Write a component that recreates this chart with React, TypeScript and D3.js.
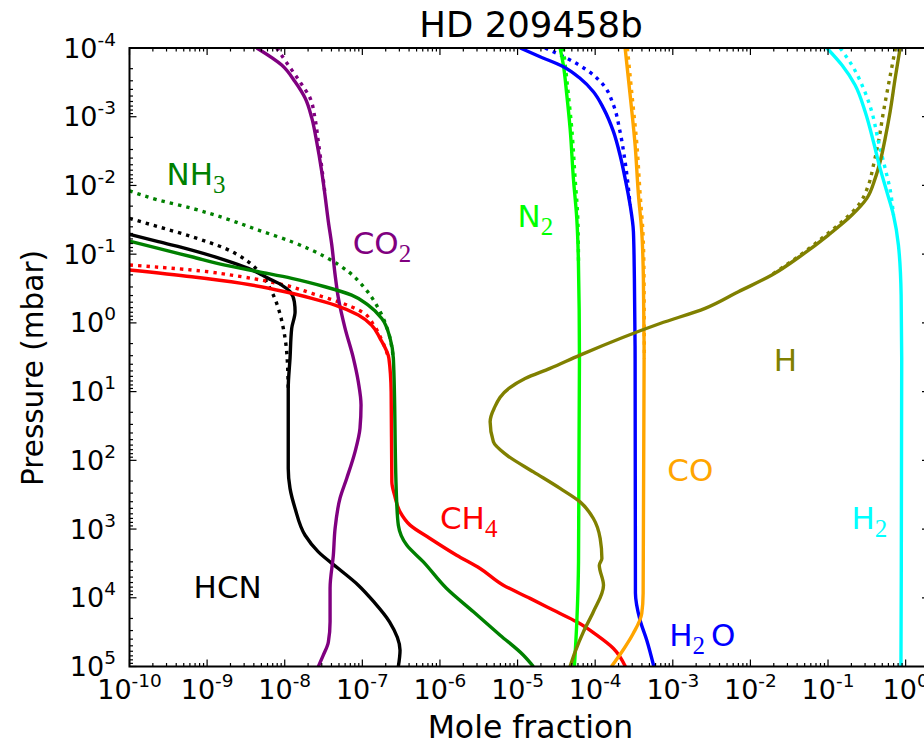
import React from "react";
import * as d3 from "d3";

type Pt = [number, number]; // [pressure (mbar), mole fraction]

// ---- Data: [pressure (mbar), mole fraction] ----
const co2Solid: Pt[] = [
  [1e-4, 4.36e-9], [1.77e-4, 9.14e-9], [3.1e-4, 1.36e-8], [5.35e-4, 1.83e-8], [1.04e-3, 2.23e-8],
  [2.31e-3, 2.58e-8], [6.32e-3, 3.0e-8], [1.38e-2, 3.3e-8], [3.37e-2, 3.65e-8], [7.36e-2, 4.04e-8],
  [0.201, 4.46e-8], [0.435, 4.91e-8], [1.19, 5.98e-8], [3.25, 7.66e-8], [7.19, 8.87e-8],
  [15.7, 9.62e-8], [34, 9.33e-8], [75.2, 8.05e-8], [182, 6.3e-8], [355, 5.16e-8], [970, 4.46e-8],
  [2400, 4.23e-8], [7240, 3.84e-8], [22400, 3.84e-8], [43900, 3.65e-8], [68500, 3.14e-8], [1e5, 2.71e-8],
];
const co2Dotted: Pt[] = [
  [1e-4, 7.89e-9], [1.77e-4, 1.11e-8], [3.1e-4, 1.57e-8], [5.35e-4, 2.12e-8], [1.04e-3, 2.45e-8],
  [2.31e-3, 2.71e-8], [6.32e-3, 3.05e-8], [1.38e-2, 3.32e-8],
];

const hcnSolid: Pt[] = [
  [5.15e-2, 1e-10], [6.59e-2, 2.35e-10], [8.71e-2, 6.34e-10], [0.122, 1.7e-9], [0.161, 3.4e-9],
  [0.225, 6.15e-9], [0.282, 9.14e-9], [0.352, 1.17e-8], [0.493, 1.33e-8], [0.689, 1.36e-8],
  [1.2, 1.23e-8], [3.29, 1.17e-8], [9.0, 1.11e-8], [131, 1.11e-8], [256, 1.17e-8], [501, 1.36e-8],
  [1230, 1.83e-8], [2150, 2.71e-8], [3750, 4.91e-8], [6560, 8.87e-8], [11500, 1.41e-7],
  [22400, 2.24e-7], [57900, 3.06e-7], [1e5, 2.91e-7],
];
const hcnDotted: Pt[] = [
  [3.01e-2, 1e-10], [3.99e-2, 2.35e-10], [5.57e-2, 6.34e-10], [8.24e-2, 1.7e-9], [0.129, 3.4e-9],
  [0.201, 5.06e-9], [0.352, 6.81e-9], [0.615, 8.28e-9], [1.2, 9.59e-9], [2.63, 1.06e-8], [9.0, 1.11e-8],
];

const ch4Solid: Pt[] = [
  [0.17, 1e-10], [0.213, 6.34e-10], [0.266, 2.79e-9], [0.352, 1.01e-8], [0.44, 2.23e-8],
  [0.551, 4.45e-8], [0.769, 8.87e-8], [1.08, 1.32e-7], [1.68, 1.69e-7], [3.29, 2.2e-7],
  [10, 2.35e-7], [206, 2.4e-7], [321, 2.6e-7], [562, 3.06e-7], [877, 4.12e-7], [1370, 7.45e-7],
  [2400, 1.64e-6], [3750, 3.29e-6], [6560, 6.56e-6], [10200, 1.45e-5], [16000, 3.2e-5],
  [22400, 5.79e-5], [35000, 1.05e-4], [54700, 1.72e-4], [1e5, 2.45e-4],
];
const ch4Dotted: Pt[] = [
  [0.144, 1e-10], [0.17, 6.34e-10], [0.213, 2.79e-9], [0.282, 1.01e-8], [0.372, 2.23e-8],
  [0.493, 4.91e-8], [0.689, 9.82e-8], [1.08, 1.41e-7], [1.68, 1.74e-7], [3.29, 2.2e-7],
];

const nh3Solid: Pt[] = [
  [6.44e-2, 1e-10], [8.24e-2, 2.35e-10], [0.109, 6.34e-10], [0.144, 1.7e-9], [0.18, 4.57e-9],
  [0.225, 1.23e-8], [0.298, 3.3e-8], [0.394, 7.29e-8], [0.551, 1.19e-7], [0.861, 1.78e-7],
  [1.68, 2.28e-7], [3.29, 2.51e-7], [402, 2.77e-7], [877, 2.91e-7], [1710, 3.73e-7], [3000, 6.11e-7],
  [7330, 1.22e-6], [16000, 2.7e-6], [35000, 5.96e-6], [68500, 1.19e-5], [1e5, 1.6e-5],
];
const nh3Dotted: Pt[] = [
  [1.2e-2, 1e-10], [1.63e-2, 2.35e-10], [2.15e-2, 6.34e-10], [3.01e-2, 1.7e-9], [4.46e-2, 4.57e-9],
  [6.59e-2, 1.23e-8], [0.109, 3.3e-8], [0.18, 6.61e-8], [0.315, 1.08e-7], [0.615, 1.61e-7],
  [1.35, 2.16e-7], [3.29, 2.51e-7],
];

const n2Solid: Pt[] = [
  [1e-4, 3.53e-5], [1.77e-4, 3.89e-5], [4.83e-4, 4.31e-5], [1.48e-3, 4.75e-5], [7.89e-3, 5.24e-5],
  [3.01e-2, 5.79e-5], [0.129, 6.08e-5], [3.29, 6.27e-5], [3000, 6.1e-5], [22400, 5.8e-5], [1e5, 5.4e-5],
];
const n2Dotted: Pt[] = [
  [1e-4, 3.89e-5], [4.83e-4, 4.52e-5], [1.48e-3, 4.99e-5], [7.89e-3, 5.51e-5], [3.01e-2, 5.97e-5],
  [0.129, 6.1e-5],
];

const h2oSolid: Pt[] = [
  [1e-4, 1.08e-5], [1.34e-4, 1.95e-5], [1.87e-4, 3.89e-5], [2.76e-4, 6.38e-5], [4.33e-4, 9.48e-5],
  [7.55e-4, 1.28e-4], [1.65e-3, 1.72e-4], [3.61e-3, 2.09e-4], [7.89e-3, 2.43e-4], [1.93e-2, 2.82e-4],
  [4.72e-2, 3.11e-4], [0.225, 3.2e-4], [3.29, 3.27e-4], [8500, 3.3e-4], [21200, 3.79e-4],
  [41400, 4.62e-4], [1e5, 5.7e-4],
];
const h2oDotted: Pt[] = [
  [1e-4, 2.26e-5], [1.41e-4, 4.31e-5], [2.09e-4, 7.8e-5], [3.46e-4, 1.28e-4], [6.76e-4, 1.72e-4],
  [1.65e-3, 2.09e-4], [4.52e-3, 2.43e-4], [1.93e-2, 2.82e-4],
];

const coSolid: Pt[] = [
  [1e-4, 2.43e-4], [4.83e-4, 2.82e-4], [2.58e-3, 3.27e-4], [1.38e-2, 3.61e-4], [4.72e-2, 3.98e-4],
  [0.225, 4.18e-4], [3.29, 4.27e-4], [8500, 4.15e-4], [17000, 3.98e-4], [33100, 3.09e-4],
  [57500, 2.29e-4], [1e5, 1.62e-4],
];
const coDotted: Pt[] = [
  [1e-4, 2.6e-4], [4.83e-4, 2.98e-4], [2.58e-3, 3.45e-4], [1.38e-2, 3.8e-4], [4.72e-2, 4.12e-4],
  [0.225, 4.26e-4], [3.29, 4.3e-4],
];

const hSolid: Pt[] = [
  [1e-4, 0.849], [2.76e-4, 0.733], [8.45e-4, 0.631], [2.06e-3, 0.545], [4.52e-3, 0.469],
  [7.89e-3, 0.405], [1.54e-2, 0.316], [2.7e-2, 0.203], [5.27e-2, 0.101], [0.103, 4.6e-2],
  [0.201, 1.89e-2], [0.352, 7.0e-3], [0.615, 2.61e-3], [1.02, 6.85e-4], [2.94, 6.38e-5],
  [4.59, 2.62e-5], [6.43, 1.25e-5], [8.9, 7.8e-6], [17.4, 5.0e-6], [27.5, 4.43e-6], [53.8, 4.88e-6],
  [83.9, 7.26e-6], [147, 1.6e-5], [256, 3.53e-5], [402, 6.38e-5], [702, 9.48e-5], [1370, 1.16e-4],
  [2680, 1.22e-4], [3360, 1.13e-4], [6560, 1.28e-4], [16000, 9.48e-5], [31300, 7.05e-5],
  [61200, 5.51e-5], [1e5, 4.75e-5],
];
const hDotted: Pt[] = [
  [1e-4, 0.74], [3.46e-4, 0.6], [8.45e-4, 0.518], [2.31e-3, 0.447], [5.05e-3, 0.385],
  [9.86e-3, 0.332], [1.93e-2, 0.247], [3.37e-2, 0.151], [5.89e-2, 8.3e-2], [0.103, 4.4e-2],
  [0.201, 1.85e-2],
];

const h2Solid: Pt[] = [
  [1e-4, 0.0966], [1.77e-4, 0.151], [3.46e-4, 0.223], [8.45e-4, 0.301], [2.31e-3, 0.385],
  [5.65e-3, 0.469], [1.24e-2, 0.573], [2.7e-2, 0.697], [7.36e-2, 0.807], [0.394, 0.875],
  [3.29, 0.89], [1e5, 0.87],
];
const h2Dotted: Pt[] = [
  [1e-4, 0.143], [1.77e-4, 0.203], [3.87e-4, 0.286], [8.45e-4, 0.366], [2.31e-3, 0.447],
  [5.65e-3, 0.545], [1.15e-2, 0.631], [2.7e-2, 0.697],
];

// ---- Axis ticks ----
const xTickExps = [-10, -9, -8, -7, -6, -5, -4, -3, -2, -1, 0];
const yTickExps = [-4, -3, -2, -1, 0, 1, 2, 3, 4, 5];

// ---- Series configuration ----
const series = [
  { name: "HCN", color: "#000000", solid: hcnSolid, dotted: hcnDotted },
  { name: "CO2", color: "#800080", solid: co2Solid, dotted: co2Dotted },
  { name: "CH4", color: "#ff0000", solid: ch4Solid, dotted: ch4Dotted },
  { name: "NH3", color: "#008000", solid: nh3Solid, dotted: nh3Dotted },
  { name: "N2", color: "#00ff00", solid: n2Solid, dotted: n2Dotted },
  { name: "H2O", color: "#0000ff", solid: h2oSolid, dotted: h2oDotted },
  { name: "CO", color: "#ffa500", solid: coSolid, dotted: coDotted },
  { name: "H", color: "#808000", solid: hSolid, dotted: hDotted },
  { name: "H2", color: "#00ffff", solid: h2Solid, dotted: h2Dotted },
];

// species annotations: [mole fraction, pressure] anchor (left, baseline)
const labels = [
  { text: "NH", sub: "3", tail: "", at: [3e-10, 1e-2], color: "#008000" },
  { text: "CO", sub: "2", tail: "", at: [7.5e-8, 1e-1], color: "#800080" },
  { text: "N", sub: "2", tail: "", at: [1e-5, 4e-2], color: "#00ff00" },
  { text: "H", sub: "", tail: "", at: [2e-2, 5], color: "#808000" },
  { text: "CO", sub: "", tail: "", at: [8.5e-4, 200], color: "#ffa500" },
  { text: "H", sub: "2", tail: "", at: [0.2, 1e3], color: "#00ffff" },
  { text: "CH", sub: "4", tail: "", at: [1e-6, 1e3], color: "#ff0000" },
  { text: "HCN", sub: "", tail: "", at: [6.7e-10, 1e4], color: "#000000" },
  { text: "H", sub: "2", tail: "O", at: [9e-4, 5e4], color: "#0000ff" },
];

export default function App() {
  const W = 924, H = 744;
  const L = 129.5, R = 929, T = 48, B = 666.5;
  const x = d3.scaleLog().domain([1e-10, 2]).range([L, R]);
  const y = d3.scaleLog().domain([1e-4, 1e5]).range([T, B]);
  const line = d3
    .line<Pt>()
    .x((d) => x(d[1]))
    .y((d) => y(d[0]))
    .curve(d3.curveMonotoneY);

  const xMinor: number[] = [];
  for (let e = -10; e <= 0; e++)
    for (let k = 2; k <= 9; k++) {
      const v = k * Math.pow(10, e);
      if (v < 2) xMinor.push(v);
    }
  const yMinor: number[] = [];
  for (let e = -4; e <= 4; e++) for (let k = 2; k <= 9; k++) yMinor.push(k * Math.pow(10, e));

  const font = "DejaVu Sans";
  const tickFs = 27;
  const supFs = 18.5;
  const lw = 3.4;

  return (
    <svg
      width={W}
      height={H}
      viewBox={`0 0 ${W} ${H}`}
      style={{ position: "fixed", left: 0, top: 0, background: "#fff" }}
      fontFamily={font}
    >
      <rect x={0} y={0} width={W} height={H} fill="#fff" />
      <defs>
        <clipPath id="plot">
          <rect x={L} y={T} width={R - L} height={B - T} />
        </clipPath>
      </defs>
      <g clipPath="url(#plot)" fill="none" strokeLinejoin="round">
        {series.map((s) => (
          <path
            key={s.name + "d"}
            d={line(s.dotted) || ""}
            stroke={s.color}
            strokeWidth={lw}
            strokeDasharray="3.4 5"
          />
        ))}
        {series.map((s) => (
          <path key={s.name + "s"} d={line(s.solid) || ""} stroke={s.color} strokeWidth={lw} />
        ))}
      </g>

      {/* ticks */}
      <g stroke="#000" strokeWidth={1.2}>
        {xTickExps.map((e) => {
          const px = x(Math.pow(10, e));
          return (
            <g key={"xt" + e}>
              <line x1={px} x2={px} y1={B} y2={B - 7} />
              <line x1={px} x2={px} y1={T} y2={T + 7} />
            </g>
          );
        })}
        {xMinor.map((v, i) => {
          const px = x(v);
          return (
            <g key={"xm" + i}>
              <line x1={px} x2={px} y1={B} y2={B - 3.5} />
              <line x1={px} x2={px} y1={T} y2={T + 3.5} />
            </g>
          );
        })}
        {yTickExps.map((e) => {
          const py = y(Math.pow(10, e));
          return (
            <g key={"yt" + e}>
              <line x1={L} x2={L + 7} y1={py} y2={py} />
              <line x1={R} x2={R - 7} y1={py} y2={py} />
            </g>
          );
        })}
        {yMinor.map((v, i) => {
          const py = y(v);
          return (
            <g key={"ym" + i}>
              <line x1={L} x2={L + 3.5} y1={py} y2={py} />
              <line x1={R} x2={R - 3.5} y1={py} y2={py} />
            </g>
          );
        })}
      </g>

      {/* spines */}
      <rect x={L} y={T} width={R - L} height={B - T} fill="none" stroke="#000" strokeWidth={2} />

      {/* tick labels */}
      {xTickExps.map((e) => (
        <text key={"xl" + e} x={x(Math.pow(10, e))} y={699} textAnchor="middle" fontSize={tickFs}>
          10
          <tspan dy={-12} fontSize={supFs}>
            {String(e)}
          </tspan>
        </text>
      ))}
      {yTickExps.map((e) => (
        <text key={"yl" + e} x={116} y={y(Math.pow(10, e)) + 9.5} textAnchor="end" fontSize={tickFs}>
          10
          <tspan dy={-12} fontSize={supFs}>
            {String(e)}
          </tspan>
        </text>
      ))}

      {/* title and axis labels */}
      <text x={531} y={37} textAnchor="middle" fontSize={35.5}>
        HD 209458b
      </text>
      <text x={530.5} y={738} textAnchor="middle" fontSize={31.5}>
        Mole fraction
      </text>
      <text transform="translate(43,368) rotate(-90)" textAnchor="middle" fontSize={29.5}>
        Pressure (mbar)
      </text>

      {/* species labels */}
      {labels.map((l, i) => (
        <text key={"sl" + i} x={x(l.at[0])} y={y(l.at[1])} fill={l.color} fontSize={31}>
          {l.text}
          {l.sub ? (
            <tspan dy={8} fontFamily="Liberation Serif" fontSize={25}>
              {l.sub}
            </tspan>
          ) : null}
          {l.tail ? (
            <tspan dy={-8} dx={6}>
              {l.tail}
            </tspan>
          ) : null}
        </text>
      ))}
    </svg>
  );
}
